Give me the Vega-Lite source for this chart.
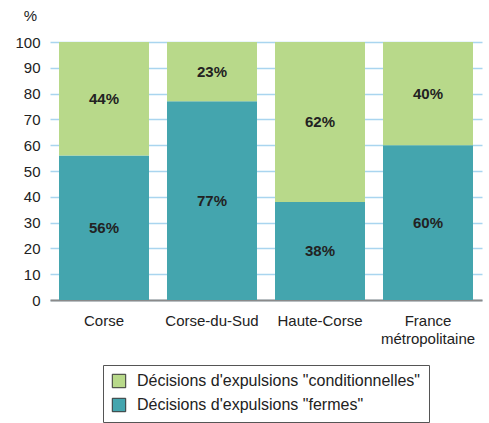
{
  "$schema": "https://vega.github.io/schema/vega-lite/v6.json",
  "width": 432,
  "height": 258,
  "autosize": "none",
  "padding": {"left": 50, "top": 42, "right": 7, "bottom": 123},
  "background": "white",
  "config": {
    "font": "Liberation Sans",
    "view": {"stroke": null},
    "axis": {"labelFont": "Liberation Sans", "titleFont": "Liberation Sans"}
  },
  "data": {
    "values": [
      {"zone": "Corse", "type": "Décisions d'expulsions \"fermes\"", "value": 56},
      {"zone": "Corse", "type": "Décisions d'expulsions \"conditionnelles\"", "value": 44},
      {"zone": "Corse-du-Sud", "type": "Décisions d'expulsions \"fermes\"", "value": 77},
      {"zone": "Corse-du-Sud", "type": "Décisions d'expulsions \"conditionnelles\"", "value": 23},
      {"zone": "Haute-Corse", "type": "Décisions d'expulsions \"fermes\"", "value": 38},
      {"zone": "Haute-Corse", "type": "Décisions d'expulsions \"conditionnelles\"", "value": 62},
      {"zone": "France métropolitaine", "type": "Décisions d'expulsions \"fermes\"", "value": 60},
      {"zone": "France métropolitaine", "type": "Décisions d'expulsions \"conditionnelles\"", "value": 40}
    ]
  },
  "transform": [
    {"stack": "value", "groupby": ["zone"], "sort": [{"field": "type", "order": "descending"}], "as": ["v0", "v1"]},
    {"calculate": "(datum.v0 + datum.v1) / 2", "as": "mid"},
    {"calculate": "datum.value + '%'", "as": "lbl"}
  ],
  "encoding": {
    "x": {
      "field": "zone", "type": "nominal", "sort": null,
      "scale": {"paddingInner": 0.1667, "paddingOuter": 0.0833},
      "axis": {
        "title": null, "labelAngle": 0, "labelFontSize": 15, "labelColor": "#222",
        "labelPadding": 13, "ticks": false, "domainColor": "#8a8a8a", "domainWidth": 2,
        "labelLineHeight": 18,
        "labelExpr": "datum.label == 'France métropolitaine' ? ['France', 'métropolitaine'] : datum.label"
      }
    },
    "y": {
      "field": "v0", "type": "quantitative",
      "scale": {"domain": [0, 100]},
      "axis": {
        "title": "%", "titleAngle": 0, "titleX": -20, "titleY": -27, "titleAlign": "center",
        "titleBaseline": "middle", "titleFontWeight": "normal", "titleFontSize": 15, "titleColor": "#222",
        "values": [0, 10, 20, 30, 40, 50, 60, 70, 80, 90, 100],
        "labelOverlap": false, "labelFontSize": 15, "labelColor": "#222", "labelPadding": 10,
        "ticks": false, "domain": false,
        "gridColor": "#a9d5ef", "gridWidth": 1.5
      }
    }
  },
  "layer": [
    {
      "mark": {"type": "bar"},
      "encoding": {
        "y2": {"field": "v1"},
        "color": {
          "field": "type", "type": "nominal",
          "scale": {
            "domain": ["Décisions d'expulsions \"conditionnelles\"", "Décisions d'expulsions \"fermes\""],
            "range": ["#b8d98a", "#44a5ae"]
          },
          "legend": {
            "title": null, "orient": "none", "legendX": 53, "legendY": 323,
            "symbolType": "square", "symbolSize": 180, "symbolStrokeColor": "#333", "symbolStrokeWidth": 1,
            "labelFontSize": 16, "labelColor": "#222", "labelLimit": 0, "labelOffset": 10, "rowPadding": 6,
            "strokeColor": "#555", "padding": 8, "fillColor": "white"
          }
        }
      }
    },
    {
      "mark": {"type": "text", "fontWeight": "bold", "fontSize": 15, "color": "#222", "baseline": "middle"},
      "encoding": {
        "y": {"field": "mid", "type": "quantitative"},
        "text": {"field": "lbl"}
      }
    }
  ]
}
